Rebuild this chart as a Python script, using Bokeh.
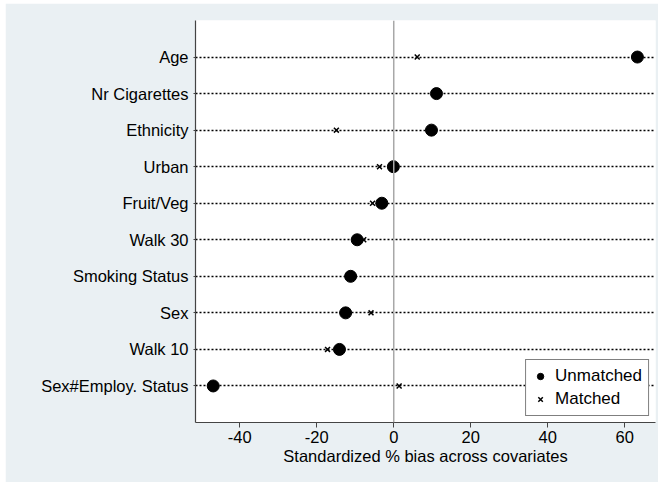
from bokeh.plotting import figure
from bokeh.models import FactorRange, Range1d, Span, Legend, LegendItem, FixedTicker
from bokeh.embed import file_html
from bokeh.resources import INLINE

covariates = ["Age", "Nr Cigarettes", "Ethnicity", "Urban", "Fruit/Veg",
              "Walk 30", "Smoking Status", "Sex", "Walk 10", "Sex#Employ. Status"]
unmatched = [63.3, 11.1, 9.8, -0.1, -3.1, -9.5, -11.2, -12.5, -14.1, -46.9]
matched = [6.1, 11.0, -14.9, -3.7, -5.5, -7.8, -11.2, -5.9, -17.2, 1.4]
x_ticks = [-40, -20, 0, 20, 40, 60]
x_tick_labels = ["-40", "-20", "0", "20", "40", "60"]

FONT = "Liberation Sans"
BG = "#eaf0f3"

p = figure(width=653, height=479, output_backend="svg", toolbar_location=None,
           y_range=FactorRange(factors=list(reversed(covariates)), range_padding=0.1),
           x_range=Range1d(-51.5, 68.0),
           min_border_left=190, min_border_right=3, min_border_top=17, min_border_bottom=60,
           margin=(3, 0, 0, 5))
p.background_fill_color = "white"
p.border_fill_color = BG
p.outline_line_color = None

p.xgrid.visible = False
p.ygrid.grid_line_color = "black"
p.ygrid.grid_line_dash = "2 2"
p.ygrid.grid_line_width = 1.7

p.add_layout(Span(location=0, dimension="height", line_color="#a8a8a8", line_width=1.5))

r_u = p.scatter(unmatched, covariates, marker="circle", size=12, fill_color="black", line_color="black")
r_m = p.scatter(matched, covariates, marker="x", size=7, line_color="black", line_width=1.5)

p.xaxis.ticker = FixedTicker(ticks=x_ticks)
p.xaxis.major_label_overrides = {t: s for t, s in zip(x_ticks, x_tick_labels)}
p.xaxis.axis_label = "Standardized % bias across covariates"
p.xaxis.axis_label_text_font = FONT
p.xaxis.axis_label_text_font_style = "normal"
p.xaxis.axis_label_text_font_size = "16.5px"
p.xaxis.axis_label_text_color = "black"
p.xaxis.axis_label_standoff = 1
p.xaxis.major_label_text_font = FONT
p.xaxis.major_label_text_font_size = "16.5px"
p.xaxis.major_label_standoff = 3
p.xaxis.minor_tick_line_color = None
p.xaxis.major_tick_out = 5
p.xaxis.major_tick_in = 0

for ax in (p.xaxis, p.yaxis):
    ax.axis_line_color = "#444444"
    ax.axis_line_width = 1.2
    ax.major_tick_line_color = "#444444"
    ax.major_label_text_color = "black"

p.yaxis.major_label_text_font = FONT
p.yaxis.major_label_text_font_size = "16.5px"
p.yaxis.major_tick_out = 2
p.yaxis.major_tick_in = 0
p.yaxis.major_label_standoff = 5

legend = Legend(items=[LegendItem(label="Unmatched", renderers=[r_u]),
                       LegendItem(label="Matched", renderers=[r_m])],
                location="bottom_right")
legend.label_text_font = FONT
legend.label_text_font_size = "17px"
legend.label_text_color = "black"
legend.border_line_color = "black"
legend.border_line_width = 1
legend.background_fill_alpha = 1
legend.margin = 6
legend.padding = 6
legend.spacing = 3
legend.glyph_width = 16
legend.glyph_height = 20
legend.label_height = 20
legend.label_standoff = 7
p.add_layout(legend)

open("out.html", "w").write(file_html(p, INLINE))
